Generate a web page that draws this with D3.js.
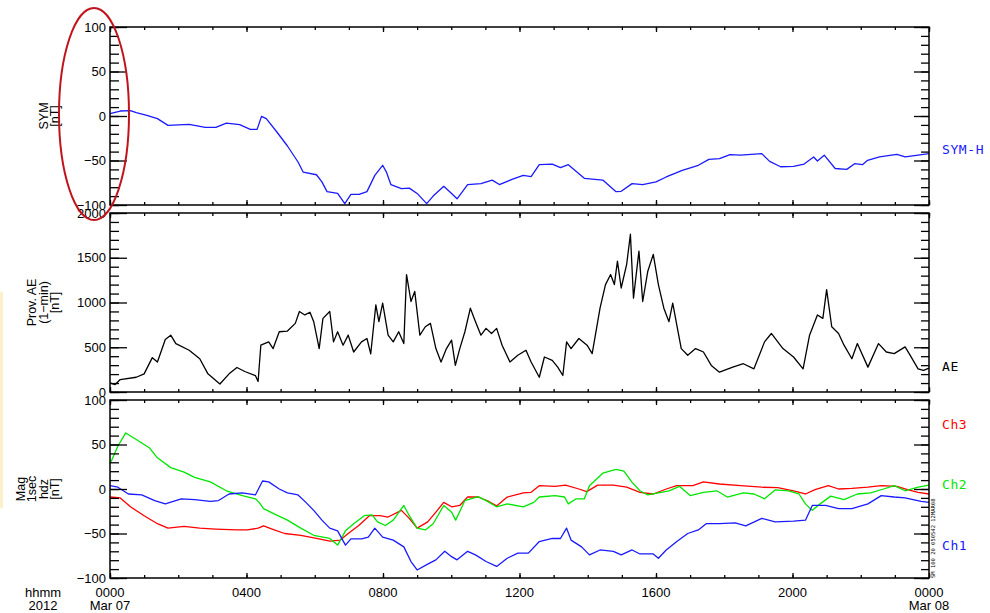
<!DOCTYPE html>
<html>
<head>
<meta charset="utf-8">
<script src="https://cdn.jsdelivr.net/npm/d3@7"></script>
<style>
  body { margin: 0; background: #fff; }
  svg { display: block; font-family: "Liberation Sans", Arial, sans-serif; }
  .tick text { font-size: 13px; fill: #000; }
  .tick line { stroke: #000; stroke-width: 1.3; }
  .domain { display: none; }
</style>
</head>
<body>
<svg id="chart" width="990" height="613"></svg>
<script>
// time axis, hours of the day (Mar 07 2012)
const hourTicks = [0, 4, 8, 12, 16, 20, 24];
const hourLabels = ['0000', '0400', '0800', '1200', '1600', '2000', '0000'];
const dateLabels = ['Mar 07', '', '', '', '', '', 'Mar 08'];

// SYM-H [nT]  (hour, value)
const symH = [
  [0,2.6],[0.3,5.6],[0.6,6],[0.77,3.7],[1.08,0.7],[1.39,-3],[1.7,-10.5],[2.32,-9.4],[2.79,-12.7],
  [3.1,-12.7],[3.41,-7.9],[3.8,-9.7],[4.11,-15],[4.31,-15],[4.44,-0.4],[4.58,-3],[4.89,-18],
  [5.2,-33.7],[5.51,-51.7],[5.66,-63],[6.05,-66],[6.21,-74],[6.36,-85],[6.67,-87],[6.88,-98.5],
  [7.06,-88],[7.3,-88],[7.53,-85],[7.76,-66.7],[7.99,-55.4],[8.1,-63],[8.23,-77],[8.54,-81.6],
  [8.77,-81],[9.0,-87],[9.28,-98.5],[9.47,-90],[9.78,-79],[10.01,-87],[10.17,-93],[10.48,-77],
  [10.87,-76],[11.2,-72],[11.41,-77],[11.8,-71],[12.11,-66.7],[12.34,-68],[12.58,-54.7],[12.96,-54],
  [13.2,-58],[13.43,-54.7],[13.9,-70],[14.44,-72],[14.83,-85],[14.98,-84.6],[15.3,-76],[15.61,-77],
  [16.0,-74],[16.3,-68.5],[16.77,-61],[17.24,-55.4],[17.55,-48.7],[17.86,-48],[18.17,-43.4],
  [18.48,-44],[19.1,-42.3],[19.33,-51],[19.65,-57],[20.03,-56.5],[20.34,-54],[20.62,-46],
  [20.73,-50.6],[20.93,-44],[21.25,-59],[21.59,-60],[21.82,-53.6],[22.05,-54.7],[22.2,-49.8],
  [22.55,-46],[23.06,-43],[23.3,-46],[23.68,-44],[24,-42.3]
];

// Provisional AE, 1-min [nT]
const ae = [
  [0,101],[0.15,83],[0.3,139],[0.77,165],[1.0,203],[1.24,384],[1.39,335],[1.62,587],[1.78,635],
  [1.93,541],[2.32,466],[2.63,372],[2.87,203],[3.22,90],[3.49,203],[3.72,274],[3.95,229],[4.26,184],
  [4.34,117],[4.42,523],[4.65,560],[4.78,485],[4.96,673],[5.2,681],[5.43,767],[5.55,899],[5.71,861],
  [5.86,891],[5.97,786],[6.13,485],[6.24,823],[6.44,899],[6.55,560],[6.67,673],[6.83,523],[6.98,635],
  [7.14,447],[7.37,560],[7.53,598],[7.64,425],[7.79,974],[7.88,786],[7.99,993],[8.15,635],[8.3,560],
  [8.46,673],[8.61,541],[8.69,1312],[8.82,1011],[8.93,1124],[9.08,635],[9.24,729],[9.39,767],
  [9.55,485],[9.7,335],[9.86,485],[10.01,579],[10.12,297],[10.25,485],[10.4,673],[10.56,936],
  [10.71,786],[10.87,635],[11.02,711],[11.18,654],[11.33,711],[11.49,523],[11.72,335],[11.95,410],
  [12.19,466],[12.34,335],[12.58,165],[12.73,391],[12.96,353],[13.12,278],[13.27,184],[13.38,560],
  [13.51,485],[13.74,598],[13.98,523],[14.13,429],[14.36,936],[14.52,1200],[14.67,1312],[14.78,1200],
  [14.87,1463],[14.98,1162],[15.14,1425],[15.25,1763],[15.34,1049],[15.5,1575],[15.61,1011],
  [15.76,1350],[15.92,1538],[16.07,1200],[16.23,936],[16.38,786],[16.49,993],[16.61,748],[16.74,485],
  [16.93,410],[17.16,485],[17.39,447],[17.62,297],[17.86,222],[18.25,278],[18.56,316],[18.87,259],
  [19.18,560],[19.38,654],[19.72,485],[20.03,391],[20.31,259],[20.5,635],[20.73,861],[20.89,823],
  [21.0,1143],[21.15,729],[21.35,654],[21.51,523],[21.74,372],[21.9,541],[22.21,278],[22.52,541],
  [22.75,447],[22.98,429],[23.3,504],[23.45,410],[23.68,259],[23.84,241],[24,267]
];

// Magnetometer 1sec hdz [nT]
const ch3 = [
  [0,-9],[0.3,-10],[0.6,-20],[1.0,-30],[1.39,-39],[1.7,-44],[2.17,-42],[2.63,-44],[3.1,-45],[3.72,-46],
  [4.03,-46],[4.34,-44],[4.5,-41.5],[4.81,-46],[5.12,-50],[5.59,-52],[6.05,-55.6],[6.44,-58.5],
  [6.75,-57.4],[6.98,-50],[7.29,-41],[7.6,-30],[7.91,-30],[8.15,-31.5],[8.54,-24],[8.77,-33],[9.0,-44],
  [9.31,-37],[9.55,-26],[9.78,-15],[10.01,-20],[10.25,-18.5],[10.48,-9],[10.79,-9],[11.1,-14],
  [11.33,-19],[11.64,-9],[12.11,-4.4],[12.34,-3.7],[12.58,3.7],[13.04,3],[13.35,4.4],[13.74,0],
  [13.97,-3],[14.29,4.4],[14.75,4.4],[15.14,2],[15.53,-3.7],[15.92,-5.6],[16.3,0],[16.61,3.7],
  [17.08,3.7],[17.39,8],[17.86,5.6],[18.48,3.7],[19.1,2],[19.57,1.5],[20.03,-2],[20.38,-5.6],
  [20.66,-0.7],[21.05,3.7],[21.35,0],[21.74,0.7],[22.21,2],[22.6,3.7],[23.06,3],[23.37,-0.7],
  [23.68,-3.7],[24,-5.6]
];
const ch2 = [
  [0,28],[0.23,48],[0.46,63],[0.77,55.6],[1.16,46],[1.39,35],[1.78,24],[2.17,19],[2.48,13],[2.94,8],
  [3.41,-2],[3.88,-7.4],[4.26,-11],[4.37,-15],[4.5,-22],[4.81,-28],[5.2,-35],[5.59,-44],[5.97,-52],
  [6.44,-55.6],[6.67,-63],[6.9,-47],[7.14,-39],[7.45,-30],[7.68,-29],[7.84,-37],[8.07,-41],[8.3,-35],
  [8.61,-18.5],[8.77,-30],[9.0,-44],[9.24,-46],[9.47,-39],[9.78,-18.5],[10.01,-26],[10.13,-35],
  [10.4,-13],[10.79,-8.5],[11.02,-13],[11.33,-20],[11.64,-16.7],[12.11,-20],[12.42,-15],[12.58,-9],
  [13.04,-7.4],[13.32,-9],[13.43,-16.7],[13.66,-11],[13.9,-11],[14.05,3.7],[14.44,17.8],[14.83,22],
  [15.06,20],[15.3,7.4],[15.53,-2],[15.76,-6.7],[16.07,-4.4],[16.38,-2],[16.69,3],[17.0,-7.4],
  [17.39,-3.7],[17.78,-2],[18.09,-9],[18.56,-4.4],[18.87,-5.6],[19.18,-11],[19.49,-1],[19.88,-2],
  [20.19,-5.6],[20.38,-16.7],[20.58,-24],[20.81,-16.7],[21.12,-8],[21.51,-12],[21.9,-5.6],
  [22.29,-4.4],[22.67,0],[22.98,3.7],[23.3,-2],[23.68,2],[24,4.4]
];
const ch1 = [
  [0,3.7],[0.23,2],[0.54,-5.6],[0.93,-6.7],[1.31,-13],[1.62,-16.7],[2.09,-11],[2.48,-12],[2.94,-14],
  [3.18,-13],[3.49,-5.6],[3.88,-4.4],[4.26,-6.7],[4.47,9],[4.65,8],[4.96,0],[5.2,-4.4],[5.51,-6.7],
  [5.74,-15],[5.97,-24],[6.21,-35],[6.44,-44],[6.67,-47],[6.9,-63],[7.06,-56],[7.37,-56],[7.57,-54],
  [7.76,-44],[7.99,-54],[8.3,-57.4],[8.61,-65],[8.82,-81.5],[9.0,-91],[9.31,-84.4],[9.55,-79.6],
  [9.81,-70],[10.01,-76],[10.17,-79.6],[10.48,-70],[10.71,-74],[11.02,-81.5],[11.33,-87],[11.64,-77.8],
  [11.95,-72],[12.26,-72],[12.58,-59],[12.96,-55.6],[13.2,-55.6],[13.38,-44],[13.51,-57.4],[13.82,-65],
  [14.05,-74],[14.36,-68.5],[14.75,-70],[14.98,-74],[15.3,-68.5],[15.53,-73],[15.92,-73],[16.07,-77.8],
  [16.3,-68.5],[16.61,-59],[16.93,-50],[17.24,-46],[17.47,-39],[17.86,-39],[18.32,-38],[18.63,-41.5],
  [19.1,-33],[19.49,-37],[20.03,-36],[20.38,-35],[20.58,-18.5],[20.97,-18.5],[21.35,-22],[21.74,-22],
  [22.21,-16.7],[22.6,-7.4],[22.98,-9],[23.3,-10],[23.77,-14],[24,-15]
];

const svg = d3.select('#chart');
const left = 110, right = 929;

const x = d3.scaleLinear().domain([0, 24]).range([left, right]);

const panels = [
  { top: 27, bottom: 205, domain: [-100, 100], major: d3.range(-100, 101, 50), minor: d3.range(-100, 101, 10),
    label: ['SYM', '[nT]'],
    series: [{ data: symH, color: '#1a1aff', name: 'SYM-H', ly: 150 }] },
  { top: 213, bottom: 392, domain: [0, 2000], major: d3.range(0, 2001, 500), minor: d3.range(0, 2001, 100),
    label: ['Prov. AE', '(1\u2212min)', '[nT]'],
    series: [{ data: ae, color: '#000', name: 'AE', ly: 367 }] },
  { top: 400, bottom: 578, domain: [-100, 100], major: d3.range(-100, 101, 50), minor: d3.range(-100, 101, 10),
    label: ['Mag', '1sec', 'hdz', '[nT]'],
    series: [
      { data: ch3, color: '#ff0000', name: 'Ch3', ly: 425 },
      { data: ch2, color: '#00e600', name: 'Ch2', ly: 485 },
      { data: ch1, color: '#1a1aff', name: 'Ch1', ly: 546 }
    ] }
];

const fmt = v => (v < 0 ? '\u2212' + Math.abs(v) : String(v));

panels.forEach(p => {
  const y = d3.scaleLinear().domain(p.domain).range([p.bottom, p.top]);
  const g = svg.append('g');

  // series
  const line = d3.line().x(d => x(d[0])).y(d => y(d[1]));
  p.series.forEach(s => {
    g.append('path')
      .attr('d', line(s.data))
      .attr('fill', 'none')
      .attr('stroke', s.color)
      .attr('stroke-width', 1.3)
      .attr('stroke-linejoin', 'round');
    svg.append('text')
      .attr('x', 942).attr('y', s.ly + 4)
      .attr('font-family', '"DejaVu Sans Mono", monospace')
      .attr('font-size', 13).attr('letter-spacing', 0.6)
      .attr('fill', s.color)
      .text(s.name);
  });

  // y ticks, inward on both sides
  g.append('g').attr('transform', `translate(${left},0)`)
    .call(d3.axisLeft(y).tickValues(p.minor).tickSize(-9).tickFormat(''));
  g.append('g').attr('transform', `translate(${left},0)`)
    .call(d3.axisLeft(y).tickValues(p.major).tickSize(-17).tickPadding(4).tickFormat(fmt));
  g.append('g').attr('transform', `translate(${right},0)`)
    .call(d3.axisRight(y).tickValues(p.minor).tickSize(-8).tickFormat(''));
  g.append('g').attr('transform', `translate(${right},0)`)
    .call(d3.axisRight(y).tickValues(p.major).tickSize(-15).tickFormat(''));

  // x ticks top and bottom
  g.append('g').attr('transform', `translate(0,${p.bottom})`)
    .call(d3.axisBottom(x).tickValues(d3.range(0, 25, 1)).tickSize(-3).tickFormat(''));
  g.append('g').attr('transform', `translate(0,${p.bottom})`)
    .call(d3.axisBottom(x).tickValues(hourTicks).tickSize(-5).tickFormat(''));
  g.append('g').attr('transform', `translate(0,${p.top})`)
    .call(d3.axisTop(x).tickValues(d3.range(0, 25, 1)).tickSize(-3).tickFormat(''));
  g.append('g').attr('transform', `translate(0,${p.top})`)
    .call(d3.axisTop(x).tickValues(hourTicks).tickSize(-5).tickFormat(''));

  // frame
  g.append('rect')
    .attr('x', left).attr('y', p.top)
    .attr('width', right - left).attr('height', p.bottom - p.top)
    .attr('fill', 'none').attr('stroke', '#000').attr('stroke-width', 1.5);

  // rotated axis title
  const cy = (p.top + p.bottom) / 2;
  const n = p.label.length;
  const t = svg.append('text')
    .attr('transform', `translate(${55 - (n - 1) * 11.3},${cy}) rotate(-90)`)
    .attr('text-anchor', 'middle')
    .attr('font-size', 12.5);
  p.label.forEach((l, i) => {
    t.append('tspan').attr('x', 0).attr('dy', i === 0 ? 4 : 11.3).text(l);
  });
});

// time labels under bottom panel
svg.selectAll('.hlab').data(hourTicks).enter().append('text')
  .attr('x', d => x(d)).attr('y', 597)
  .attr('text-anchor', 'middle').attr('font-size', 13)
  .text((d, i) => hourLabels[i]);
svg.selectAll('.dlab').data(hourTicks).enter().append('text')
  .attr('x', d => x(d)).attr('y', 610)
  .attr('text-anchor', 'middle').attr('font-size', 13)
  .text((d, i) => dateLabels[i]);
svg.append('text').attr('x', 43).attr('y', 597).attr('text-anchor', 'middle').attr('font-size', 13).text('hhmm');
svg.append('text').attr('x', 43).attr('y', 610).attr('text-anchor', 'middle').attr('font-size', 13).text('2012');

// tiny stamp along the right edge of the bottom panel
svg.append('text')
  .attr('transform', `translate(${right + 6},578) rotate(-90)`)
  .attr('font-size', 5.5).attr('font-family', '"DejaVu Sans Mono", monospace')
  .text('SM 100 20 050542 12MAR08');

// faint strip at the left edge
svg.append('rect').attr('x', 0).attr('y', 292).attr('width', 3).attr('height', 216).attr('fill', '#fcefcc');

// red annotation ellipse
svg.append('ellipse')
  .attr('cx', 94).attr('cy', 114).attr('rx', 35).attr('ry', 106)
  .attr('fill', 'none').attr('stroke', '#c0141c').attr('stroke-width', 2);
</script>
</body>
</html>
